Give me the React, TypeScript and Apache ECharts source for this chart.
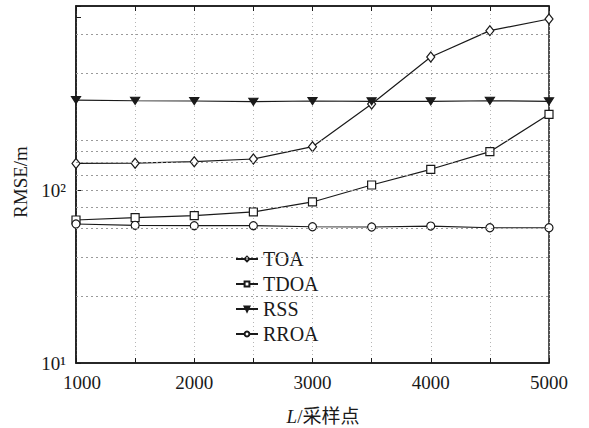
import React, { useEffect, useRef } from "react";
import * as echarts from "echarts";

const xValues = [1000, 1500, 2000, 2500, 3000, 3500, 4000, 4500, 5000];
const seriesNames = ["TOA", "TDOA", "RSS", "RROA"];
const toa = [143, 143.5, 146.4, 151.8, 178.8, 316, 591, 840, 981];
const tdoa = [67.3, 69.4, 71.3, 74.9, 85.6, 107.3, 132.3, 167.3, 275.5];
const rss = [333, 330, 328.8, 325.8, 328.8, 327.5, 327.5, 330, 327.5];
const rroa = [63.8, 62.7, 62.4, 62.4, 61.5, 61.3, 62.1, 60.7, 60.7];
const yGridValues = [24.4, 41.1, 60.5, 80, 100, 122.6, 145.8, 168.9, 195.6, 478, 803];
const xTickLabels = ["1000", "2000", "3000", "4000", "5000"];
const yTickLabels: Record<number, string> = { 10: "10¹", 100: "10²" };

const FONT = "'Liberation Serif', 'Noto Sans CJK SC', serif";
const INK = "#1a1a1a";

export default function App() {
  const ref = useRef<HTMLDivElement>(null);
  useEffect(() => {
    if (!ref.current) return;
    const chart = echarts.init(ref.current, null, { renderer: "svg" });
    const pairs = (arr: number[]) => xValues.map((x, i) => [x, arr[i]]);
    const mk = (name: string, arr: number[], symbol: string, size: any, filled: boolean, rotate = 0) => ({
      name,
      type: "line",
      data: pairs(arr),
      symbol,
      symbolSize: size,
      symbolRotate: rotate,
      showAllSymbol: true,
      lineStyle: { color: INK, width: 1.2 },
      itemStyle: { color: filled ? INK : "#fff", borderColor: INK, borderWidth: 1.2 },
      z: 3,
    });
    const series: any[] = [
      mk("TOA", toa, "diamond", [8, 10], false),
      mk("TDOA", tdoa, "rect", 8, false),
      mk("RSS", rss, "triangle", [9, 7], true, 180),
      mk("RROA", rroa, "circle", 8, false),
      {
        name: "grid",
        type: "line",
        data: [],
        silent: true,
        markLine: {
          silent: true,
          symbol: "none",
          label: { show: false },
          lineStyle: { color: "#9a9a9a", type: [2, 3], width: 1 },
          data: yGridValues.map((v) => ({ yAxis: v })),
        },
        z: 1,
      },
    ];
    chart.setOption({
      animation: false,
      backgroundColor: "#fff",
      textStyle: { fontFamily: FONT },
      grid: { left: 76, right: 40, top: 6, bottom: 65, show: true, borderColor: INK, borderWidth: 1.5, backgroundColor: "transparent" },
      legend: {
        data: seriesNames,
        orient: "vertical",
        left: 230,
        top: 244,
        itemWidth: 22,
        itemHeight: 6,
        itemGap: 5,
        textStyle: { fontFamily: FONT, fontSize: 20, color: INK, lineHeight: 20 },
      },
      xAxis: [
        {
          type: "value",
          min: 1000,
          max: 5000,
          interval: 500,
          axisLine: { show: true, lineStyle: { color: INK, width: 1.5 } },
          axisTick: { show: true, inside: true, length: 5, lineStyle: { color: INK } },
          splitLine: { show: true, lineStyle: { color: "#b5b5b5", type: [1, 3], width: 1 } },
          axisLabel: {
            margin: 10,
            fontFamily: FONT,
            fontSize: 19,
            color: INK,
            formatter: (v: number) => {
              const s = String(v);
              if (!xTickLabels.includes(s)) return "";
              return v === 1000 ? "{f|" + s + "}" : s;
            },
            rich: { f: { fontFamily: FONT, fontSize: 19, color: INK, padding: [0, 0, 0, 12] } },
          },
        },
        {
          type: "value",
          position: "top",
          min: 1000,
          max: 5000,
          interval: 500,
          axisLine: { show: true, lineStyle: { color: INK, width: 1.5 } },
          axisTick: { show: true, inside: true, length: 5, lineStyle: { color: INK } },
          axisLabel: { show: false },
          splitLine: { show: false },
        },
      ],
      yAxis: {
        type: "log",
        logBase: 10,
        min: 10,
        max: 1167,
        axisLine: { show: true, lineStyle: { color: INK, width: 1.5 } },
        axisTick: { show: true, inside: true, length: 5, lineStyle: { color: INK } },
        splitLine: { show: false },
        axisLabel: {
          margin: 10,
          fontFamily: FONT,
          fontSize: 19,
          color: INK,
          formatter: (v: number) => yTickLabels[Math.round(v)] || "",
        },
      },
      graphic: [
        {
          type: "text",
          x: 323,
          y: 416,
          style: {
            text: "{i|L}/采样点",
            textAlign: "center",
            textVerticalAlign: "middle",
            fontFamily: FONT,
            fontSize: 19,
            fill: INK,
            rich: { i: { fontStyle: "italic", fontFamily: FONT, fontSize: 19, fill: INK } },
          },
        },
        {
          type: "text",
          x: 20,
          y: 182,
          rotation: Math.PI / 2,
          style: {
            text: "RMSE/m",
            textAlign: "center",
            textVerticalAlign: "middle",
            fontFamily: FONT,
            fontSize: 19,
            fill: INK,
          },
        },
      ],
      series,
    });
    return () => chart.dispose();
  }, []);
  return <div ref={ref} style={{ position: "fixed", left: 0, top: 0, width: 589, height: 428 }} />;
}
